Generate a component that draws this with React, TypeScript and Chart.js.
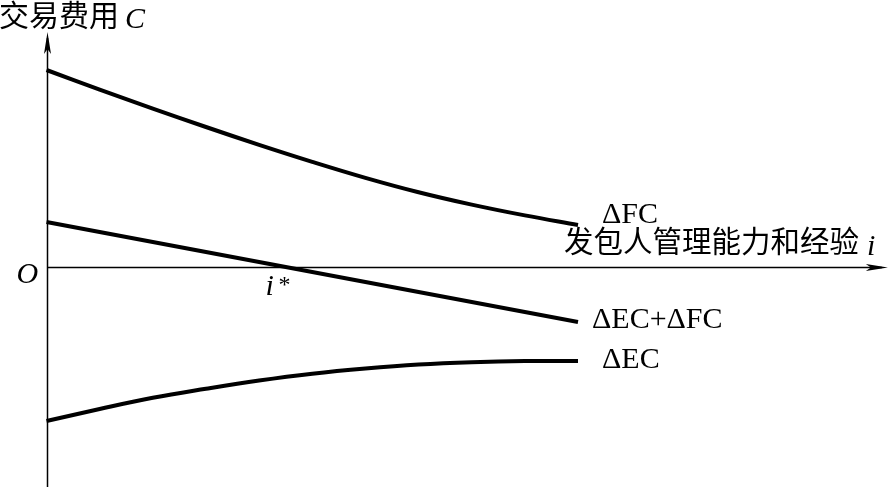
import React, { useEffect, useRef } from "react";
import { Chart, registerables } from "chart.js";

Chart.register(...registerables);

// i (management capability & experience), arbitrary units
const iValues = [0, 1, 2, 3, 4, 5, 6, 7, 8, 9, 10];
// Transaction cost curves (arbitrary units; 0 = x-axis)
const deltaFC = [9.85, 8.87, 7.92, 7.0, 6.11, 5.26, 4.46, 3.74, 3.12, 2.58, 2.1];
const deltaECplusFC = [2.25, 1.75, 1.25, 0.75, 0.25, -0.25, -0.75, -1.25, -1.75, -2.25, -2.75];
const deltaEC = [-7.7, -7.1, -6.54, -6.09, -5.68, -5.34, -5.08, -4.88, -4.76, -4.7, -4.7];

const seriesLabels = ["ΔFC", "ΔEC+ΔFC", "ΔEC"];
const xAxisTitle = "发包人管理能力和经验";
const yAxisTitle = "交易费用";

const X_MIN = -0.875;
const X_MAX = 15.87;
const Y_MIN = -11;
const Y_MAX = 13.35;
const X_AXIS_END = 15.83;
const Y_AXIS_TOP = 11.75;

const SERIF = '"Liberation Serif", "Times New Roman", serif';
const CJK = '"Noto Sans CJK SC", sans-serif';

const axesPlugin = {
  id: "axesPlugin",
  beforeDatasetsDraw(chart: any) {
    const { ctx, scales } = chart;
    const xs = scales.x;
    const ys = scales.y;
    const ox = Math.round(xs.getPixelForValue(0)) + 0.5;
    const oy = Math.round(ys.getPixelForValue(0)) + 0.5;
    const xEnd = xs.getPixelForValue(X_AXIS_END);
    const yTop = ys.getPixelForValue(Y_AXIS_TOP);
    const yBottom = chart.height;
    ctx.save();
    ctx.strokeStyle = "#000";
    ctx.fillStyle = "#000";
    ctx.lineWidth = 1.5;
    // y axis
    ctx.beginPath();
    ctx.moveTo(ox, yBottom);
    ctx.lineTo(ox, yTop + 6);
    ctx.stroke();
    ctx.beginPath();
    ctx.moveTo(ox, yTop);
    ctx.lineTo(ox - 3.5, yTop + 22);
    ctx.lineTo(ox, yTop + 17);
    ctx.lineTo(ox + 3.5, yTop + 22);
    ctx.closePath();
    ctx.fill();
    // x axis
    ctx.beginPath();
    ctx.moveTo(ox, oy);
    ctx.lineTo(xEnd - 6, oy);
    ctx.stroke();
    ctx.beginPath();
    ctx.moveTo(xEnd, oy);
    ctx.lineTo(xEnd - 22, oy - 3.5);
    ctx.lineTo(xEnd - 17, oy);
    ctx.lineTo(xEnd - 22, oy + 3.5);
    ctx.closePath();
    ctx.fill();
    ctx.restore();
  },
  afterDatasetsDraw(chart: any) {
    const { ctx, scales } = chart;
    const xs = scales.x;
    const ys = scales.y;
    const ox = xs.getPixelForValue(0);
    const oy = ys.getPixelForValue(0);
    const last = iValues.length - 1;
    const endX = xs.getPixelForValue(iValues[last]);
    ctx.save();
    ctx.fillStyle = "#000";
    ctx.textAlign = "left";

    // Y axis title
    ctx.font = `30px ${CJK}`;
    ctx.textBaseline = "middle";
    ctx.fillText(yAxisTitle, -1, 15);
    const yw = ctx.measureText(yAxisTitle).width;
    ctx.textBaseline = "alphabetic";
    ctx.font = `italic 30px ${SERIF}`;
    ctx.fillText("C", yw + 5, 28);

    // X axis title
    ctx.font = `29.5px ${CJK}`;
    ctx.textBaseline = "middle";
    ctx.fillText(xAxisTitle, 564, oy - 26);
    const xw = ctx.measureText(xAxisTitle).width;
    ctx.textBaseline = "alphabetic";
    ctx.font = `italic 30px ${SERIF}`;
    ctx.fillText("i", 564 + xw + 8, oy - 12);

    // Origin
    ctx.font = `italic 30px ${SERIF}`;
    ctx.fillText("O", ox - 30, oy + 16);

    // i*
    ctx.fillText("i", ox + 219, oy + 28);
    ctx.font = `24px ${SERIF}`;
    ctx.fillText("*", ox + 232, oy + 25);

    // Series labels
    ctx.font = `30px ${SERIF}`;
    ctx.fillText(seriesLabels[0], endX + 24, ys.getPixelForValue(deltaFC[last]) - 2);
    ctx.fillText(seriesLabels[1], endX + 14, ys.getPixelForValue(deltaECplusFC[last]) + 6);
    ctx.fillText(seriesLabels[2], endX + 24, ys.getPixelForValue(deltaEC[last]) + 7);
    ctx.restore();
  },
};

export default function App() {
  const canvasRef = useRef<HTMLCanvasElement | null>(null);

  useEffect(() => {
    const canvas = canvasRef.current;
    if (!canvas) return;
    const mk = (arr: number[]) => iValues.map((x, k) => ({ x, y: arr[k] }));
    const ds = (label: string, arr: number[], tension: number) => ({
      label,
      data: mk(arr),
      borderColor: "#000",
      borderWidth: 4,
      pointRadius: 0,
      fill: false,
      tension,
      borderCapStyle: "butt" as const,
    });
    const chart = new Chart(canvas, {
      type: "line",
      data: {
        datasets: [
          ds(seriesLabels[0], deltaFC, 0.4),
          ds(seriesLabels[1], deltaECplusFC, 0),
          ds(seriesLabels[2], deltaEC, 0.4),
        ],
      },
      options: {
        responsive: false,
        animation: false,
        layout: { padding: 0 },
        plugins: { legend: { display: false }, tooltip: { enabled: false } },
        scales: {
          x: { type: "linear", min: X_MIN, max: X_MAX, display: false },
          y: { type: "linear", min: Y_MIN, max: Y_MAX, display: false },
        },
      },
      plugins: [axesPlugin],
    });
    return () => chart.destroy();
  }, []);

  return (
    <div style={{ position: "absolute", left: 0, top: 0, width: 890, height: 487, background: "#fff" }}>
      <canvas ref={canvasRef} width={890} height={487} style={{ display: "block" }} />
    </div>
  );
}
